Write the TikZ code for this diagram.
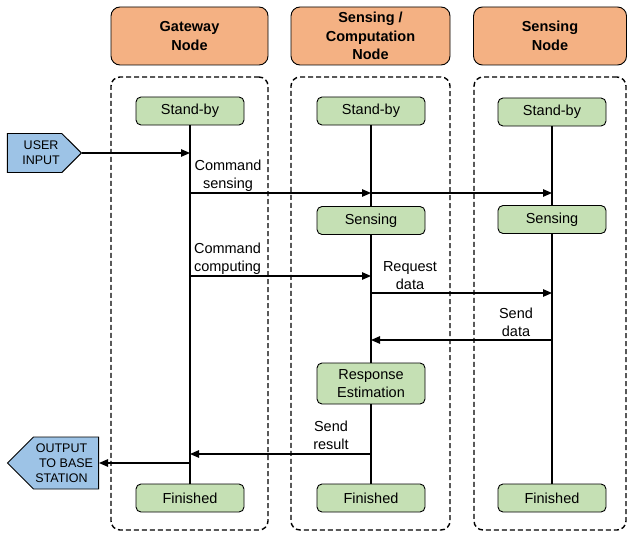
\documentclass[tikz,border=0pt]{standalone}
\usepackage{fontspec}
\setmainfont{Liberation Sans}
\usetikzlibrary{arrows.meta,positioning,shapes.symbols}
\definecolor{headorange}{HTML}{F4B183}
\definecolor{stategreen}{HTML}{C5E0B4}
\definecolor{ioblue}{HTML}{9DC3E6}

\begin{document}
\begin{tikzpicture}[x=1pt, y=-1pt, >={Triangle[length=9pt,width=7.5pt]},
  every node/.style={font=\fontsize{14.5}{18}\selectfont},
  header/.style={draw, rounded corners=9pt, fill=headorange, line width=0.9pt, minimum height=58pt, inner sep=0pt, align=center, font=\fontsize{14.5}{18.5}\selectfont\bfseries},
  lane/.style={draw, rounded corners=9pt, line width=1.4pt, dash pattern=on 5pt off 3pt, minimum height=453pt, inner sep=0pt},
  state/.style={draw, rounded corners=5pt, fill=stategreen, line width=0.9pt, minimum width=108pt, minimum height=28pt, inner sep=0pt, align=center},
  iobox/.style={signal, draw, fill=ioblue, line width=0.9pt, inner sep=0pt, align=center, font=\fontsize{12.5}{15}\selectfont},
  life/.style={line width=1.2pt},
  msg/.style={->, line width=1.2pt}]
\useasboundingbox (0,0) rectangle (628,532);

% column headers and lanes
\node[header, minimum width=157pt] (gwhead) at (189.5,36) {Gateway\\Node};
\node[header, minimum width=159pt] (mchead) at (370.5,36) {Sensing /\\Computation\\Node};
\node[header, minimum width=153pt] (snhead) at (550,36) {Sensing\\Node};
\node[lane, minimum width=157pt] (gwlane) at (189.5,303.5) {};
\node[lane, minimum width=159pt] (mclane) at (370.5,303.5) {};
\node[lane, minimum width=152pt] (snlane) at (550,303.5) {};

% states
\node[state] (gwsb) at (190,111) {Stand-by};
\node[state] (mcsb) at (371,111) {Stand-by};
\node[state] (snsb) at (552,112) {Stand-by};
\node[state] (mcsens) at (371,220.5) {Sensing};
\node[state] (snsens) at (552,219.5) {Sensing};
\node[state, minimum height=41pt] (mcresp) at (371,383.5) {Response\\Estimation};
\node[state] (gwfin) at (190,498) {Finished};
\node[state] (mcfin) at (371,498) {Finished};
\node[state] (snfin) at (552,498) {Finished};

% input / output
\node[iobox, signal to=east, minimum width=74pt, minimum height=39pt, anchor=east] (usr) at (82,153) {\hspace*{13pt}USER\\\hspace*{13pt}INPUT};
\node[iobox, signal to=west, minimum width=91pt, minimum height=52pt, anchor=east] (out) at (99,463) {OUTPUT\hspace*{9pt}\\TO BASE\hspace*{9pt}\\STATION\hspace*{9pt}};

% lifelines
\draw[life] (gwsb) -- (gwfin);
\draw[life] (mcsb) -- (mcsens);
\draw[life] (mcsens) -- (mcresp);
\draw[life] (mcresp) -- (mcfin);
\draw[life] (snsb) -- (snsens);
\draw[life] (snsens) -- (snfin);

% messages
\coordinate (gwin) at (190,153);
\coordinate (gwcs) at (190,193);
\coordinate (mccs) at (371,193);
\coordinate (sncs) at (552,193);
\coordinate (gwcc) at (190,276);
\coordinate (mccc) at (371,276);
\coordinate (mcrq) at (371,293);
\coordinate (snrq) at (552,293);
\coordinate (snsd) at (552,340);
\coordinate (mcsd) at (371,340);
\coordinate (mcsr) at (371,454);
\coordinate (gwsr) at (190,454);
\coordinate (gwout) at (190,463);

\draw[msg] (usr.east) -- (gwin);
\draw[msg] (gwcs) -- (mccs);
\draw[msg] (mccs) -- (sncs);
\draw[msg] (gwcc) -- (mccc);
\draw[msg] (mcrq) -- (snrq);
\draw[msg] (snsd) -- (mcsd);
\draw[msg] (mcsr) -- (gwsr);
\draw[msg] (gwout) -- (out.east);

% message labels
\node[align=center] (lblcs) at (228,175.5) {Command\\sensing};
\node[align=center] (lblcc) at (227.5,258.5) {Command\\computing};
\node[align=center] (lblrq) at (410,275.5) {Request\\data};
\node[align=center] (lblsd) at (516,322.5) {Send\\data};
\node[align=center] (lblsr) at (331,435) {Send\\result};
\end{tikzpicture}
\end{document}
